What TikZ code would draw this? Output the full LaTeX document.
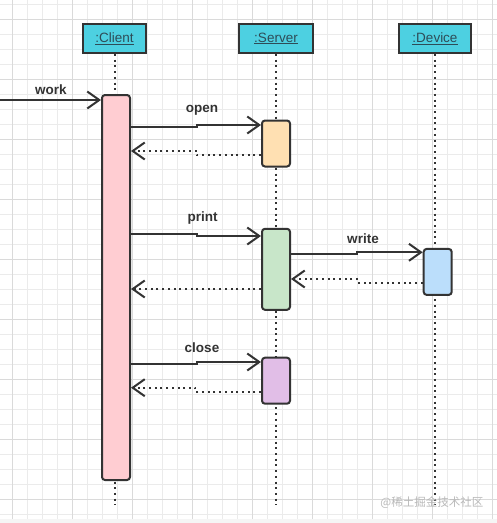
\documentclass[tikz,border=0pt]{standalone}
\usepackage{fontspec}
\setsansfont{Liberation Sans}
\newfontfamily\cjkfont{Noto Sans CJK SC}
\usetikzlibrary{arrows.meta}
\definecolor{linec}{HTML}{333333}
\definecolor{headcyan}{HTML}{4DD0E1}
\definecolor{headtext}{HTML}{2E4C57}
\definecolor{clientpink}{HTML}{FFCDD2}
\definecolor{openorange}{HTML}{FFE0B2}
\definecolor{printgreen}{HTML}{C8E6C9}
\definecolor{writeblue}{HTML}{BBDEFB}
\definecolor{closepurple}{HTML}{E1BEE7}
\definecolor{gridc}{HTML}{EBEBEB}
\definecolor{gridd}{HTML}{DADADA}

\begin{document}
\begin{tikzpicture}[x=1pt,y=-1pt,font=\sffamily,
    head/.style={draw=linec,line width=2pt,fill=headcyan,minimum height=29pt,inner sep=0pt,text=headtext,font=\sffamily\fontsize{13.5}{16}\selectfont},
    bar/.style={draw=linec,line width=2pt,rounded corners=3pt,minimum width=28pt,inner sep=0pt},
    msg/.style={draw=linec,line width=2pt,-{Straight Barb[length=12pt,width=17pt]}},
    ret/.style={msg,dash pattern=on 2pt off 3.7pt},
    life/.style={draw=linec,line width=2pt,dash pattern=on 2pt off 3.7pt},
    lbl/.style={font=\sffamily\bfseries\fontsize{13.5}{16}\selectfont,text=linec,inner sep=0pt},
    gmin/.style={draw=gridc,line width=0.8pt},
    gmaj/.style={draw=gridd,line width=0.8pt}]
\useasboundingbox (0,0) rectangle (497,523);
\fill[white] (0,0) rectangle (497,523);
\foreach \x in {12.3,27.3,...,497} \draw[gmin] (\x,0) -- (\x,519);
\foreach \y in {4.3,19.3,...,519} \draw[gmin] (0,\y) -- (497,\y);
\foreach \x in {12.3,72.3,...,497} \draw[gmaj] (\x,0) -- (\x,519);
\foreach \y in {19.3,79.3,...,519} \draw[gmaj] (0,\y) -- (497,\y);
\fill[gray!8] (0,519) rectangle (497,523);

% lifelines
\node[head,minimum width=63pt] (client) at (114.5,38.5) {\underline{:Client}};
\node[head,minimum width=74pt] (server) at (276,38.5) {\underline{:Server}};
\node[head,minimum width=72pt] (device) at (435,38.5) {\underline{:Device}};
\coordinate (cend) at (115,505);
\coordinate (send) at (276,505);
\coordinate (dend) at (435,505);
\draw[life] (client.south -| cend) -- (cend);
\draw[life] (server.south) -- (send);
\draw[life] (device.south) -- (dend);

% activations
\node[bar,fill=clientpink,minimum height=385pt] (cbar) at (116,287.5) {};
\node[bar,fill=openorange,minimum height=46pt] (open) at (276,143.5) {};
\node[bar,fill=printgreen,minimum height=81pt] (print) at (276,269.3) {};
\node[bar,fill=writeblue,minimum height=46pt] (write) at (437.7,271.9) {};
\node[bar,fill=closepurple,minimum height=46pt] (close) at (276,380.7) {};

% messages
\coordinate (in) at (0,100);
\draw[msg] (in) -- (cbar.west |- in);
\node[lbl] (worklbl) at (51,89.5) {work};
\draw[msg] (cbar.east |- 0,127) -| (196.7,125) -- (open.west |- 0,125);
\node[lbl] (openlbl) at (202,110.5) {open};
\draw[ret] (open.west |- 0,155) -| (196.7,151) -- (cbar.east |- 0,151);
\draw[msg] (cbar.east |- 0,234.3) -| (196.7,236) -- (print.west |- 0,236);
\node[lbl] (printlbl) at (202.5,218.5) {print};
\draw[ret] (print.west |- 0,289) -- (cbar.east |- 0,289);
\draw[msg] (print.east |- 0,254.3) -| (356.7,252.3) -- (write.west |- 0,252.3);
\node[lbl] (writelbl) at (363,238.5) {write};
\draw[ret] (write.west |- 0,282.7) -| (356.7,279) -- (print.east |- 0,279);
\draw[msg] (cbar.east |- 0,363.7) -| (196.7,362) -- (close.west |- 0,362);
\node[lbl] (closelbl) at (202,347.3) {close};
\draw[ret] (close.west |- 0,391.7) -| (195,387.7) -- (cbar.east |- 0,387.7);

\node[text=gray!55,font=\cjkfont\fontsize{11.5}{13}\selectfont,inner sep=0pt,anchor=east] (mark) at (483.5,503) {@稀土掘金技术社区};
\end{tikzpicture}
\end{document}
